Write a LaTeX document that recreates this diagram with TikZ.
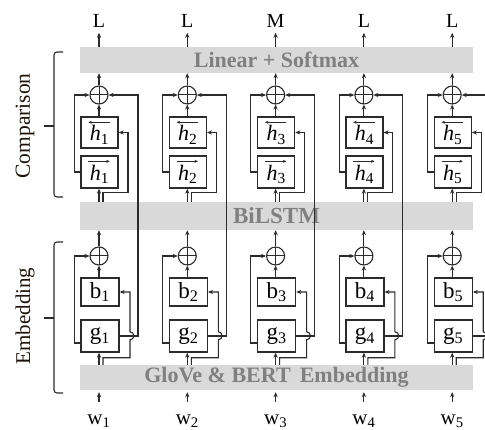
\documentclass[tikz,border=0pt]{standalone}
\usepackage{fontspec}
\setmainfont{Liberation Serif}
\usetikzlibrary{arrows.meta,calc}
\definecolor{barfill}{HTML}{D9D9D9}
\definecolor{bartext}{HTML}{808080}
\definecolor{ink}{HTML}{2B2B2B}
\begin{document}
\begin{tikzpicture}[x=1pt,y=-1pt,
  wire/.style={draw=ink, line width=1.1pt},
  arr/.style={wire, -{Stealth[length=5pt,width=4.2pt]}},
  vec/.style={draw=ink, line width=0.8pt, -{Stealth[length=3.5pt,width=3pt]}},
  box/.style={draw=ink, line width=1.4pt, fill=white, inner sep=0pt,
    text=black, font=\fontsize{23}{24}\selectfont},
  hbox/.style={box, minimum width=37pt, text height=17pt, text depth=0pt,
    font=\fontsize{22}{24}\selectfont},
  sum/.style={circle, draw=ink, line width=1.1pt, minimum size=18pt, inner sep=0pt,
    path picture={\draw[ink, line width=1pt]
      (path picture bounding box.north) -- (path picture bounding box.south)
      (path picture bounding box.west) -- (path picture bounding box.east);}},
  bar/.style={fill=barfill, text=bartext, inner sep=0pt, minimum width=393pt},
  lab/.style={inner sep=0pt, text=black, font=\fontsize{20}{22}\selectfont},
  side/.style={rotate=90, inner sep=0pt, text=black!85!brown}]
\useasboundingbox (0,0) rectangle (485,430);
\clip (0,0) rectangle (485,430);

% layer bars
\node[bar, minimum height=26pt, font=\bfseries\fontsize{22}{24}\selectfont] (lin) at (276.5,60) {Linear + Softmax};
\node[bar, minimum height=28pt, font=\bfseries\fontsize{23}{24}\selectfont] (bil) at (276.5,216) {BiLSTM};
\node[bar, minimum height=25pt, font=\bfseries\fontsize{22}{24}\selectfont] (glv) at (276.5,377.5) {GloVe \& BERT\, Embedding};

% section braces
\draw[wire, rounded corners=3pt] (63,52) -- (54,52) -- (54,197) -- (63,197);
\draw[wire] (54,126) -- (44,126);
\node[side, font=\fontsize{21.5}{22}\selectfont] (cmp) at (25,126) {Comparison};
\draw[wire, rounded corners=3pt] (63,242) -- (54,242) -- (54,393) -- (63,393);
\draw[wire] (54,318) -- (44,318);
\node[side, font=\fontsize{21}{22}\selectfont] (emb) at (25,316) {Embedding};

\foreach \i/\lab in {1/L,2/L,3/M,4/L,5/L}{
  \pgfmathsetmacro\cx{99+88.3*(\i-1)}
  % nodes of one column
  \node[sum] (cs\i) at (\cx,95) {};
  \node[hbox, minimum height=31pt] (hb\i) at (\cx+0.5,132.5) {\textit{h}\textsubscript{\i}};
  \node[hbox, minimum height=32pt] (hf\i) at (\cx+0.5,172) {\textit{h}\textsubscript{\i}};
  % direction arrows over the hidden states
  \draw[vec] ($(hb\i.north east)+(-9,6)$) -- ($(hb\i.north west)+(8,6)$);
  \draw[vec] ($(hf\i.north west)+(8,6)$) -- ($(hf\i.north east)+(-9,6)$);
  \node[sum] (es\i) at (\cx,256) {};
  \node[box, minimum width=38pt, minimum height=28pt] (b\i) at (\cx+1,292) {b\textsubscript{\i}};
  \node[box, minimum width=38pt, minimum height=32pt] (g\i) at (\cx+1,336) {g\textsubscript{\i}};
  \node[lab] (o\i) at (\cx,21) {\lab};
  \node[lab, font=\fontsize{21}{22}\selectfont] (w\i) at (\cx,421) {w\textsubscript{\i}};

  % output
  \draw[arr] (lin.north -| o\i) -- ++(0,-14);
  \draw[arr] (cs\i.north) -- (cs\i.north |- lin.south);
  % comparison layer
  \draw[arr] (hb\i.north -| cs\i) -- (cs\i.south);
  \draw[arr] (hf\i.west) -- ++(-6,0) |- (cs\i.west);
  \draw[arr] (bil.north -| cs\i) -- (hf\i.south -| cs\i);
  \draw[arr] ($(bil.north -| cs\i)+(4,0)$) -- ++(0,-9) -- ++(25,0) |- (hb\i.east);
  % skip connection from the embedding
  \draw[arr] (g\i.east) -| ($(cs\i)+(39,0)$) -- (cs\i.east);
  % embedding layer
  \draw[arr] (es\i.north) -- (es\i.north |- bil.south);
  \draw[arr] (b\i.north -| es\i) -- (es\i.south);
  \draw[arr] ($(g\i.west)+(0,7)$) -- ++(-6,0) |- (es\i.west);
  \draw[arr] (glv.north -| es\i) -- (g\i.south -| es\i);
  \draw[arr] ($(glv.north -| es\i)+(4,0)$) -- ++(0,-7) -- ++(27,0) -- ++(0,-18)
    .. controls +(5,0) and +(5,0) .. ++(0,-8) |- (b\i.east);
  % input
  \draw[arr] ($(glv.south -| w\i)+(0,12)$) -- ($(glv.south -| w\i)+(0,2)$);
}
\end{tikzpicture}
\end{document}
